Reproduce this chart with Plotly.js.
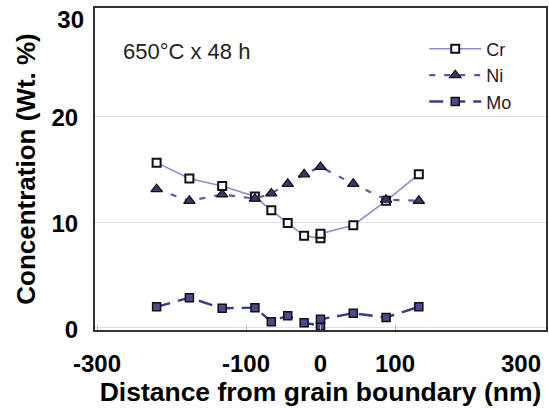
<!DOCTYPE html>
<html>
<head>
<meta charset="utf-8">
<script src="https://cdn.plot.ly/plotly-3.0.1.min.js"></script>
<style>html,body{margin:0;padding:0;background:#fff;}#chart{width:549px;height:412px;}</style>
</head>
<body>
<div id="chart"></div>
<script>
// Data
const crX = [-220, -176, -132, -88, -66, -44, -22, 0, 0, 44, 88, 132];
const crY = [15.6, 14.1, 13.4, 12.4, 11.1, 9.9, 8.7, 8.46, 8.9, 9.7, 12.0, 14.5];
const niX = [-220, -176, -132, -88, -66, -44, -22, 0, 44, 88, 132];
const niY = [13.1, 12.0, 12.6, 12.2, 12.7, 13.6, 14.5, 15.2, 13.6, 12.1, 12.0];
const moX = [-220, -176, -132, -88, -66, -44, -22, 0, 0, 44, 88, 132];
const moY = [2.0, 2.86, 1.86, 1.92, 0.6, 1.16, 0.5, 0.22, 0.82, 1.39, 1.0, 2.0];
const xTicks = [-300, -100, 0, 100];
const xEdgeTicks = [300];
const yTicks = [0, 10, 20];
const yEdgeTicks = [30];
const seriesNames = ['Cr', 'Ni', 'Mo'];
const noteText = '650°C x 48 h';
const xTitle = 'Distance from grain boundary (nm)';
const yTitle = 'Concentration (Wt. %)';

const FONT = 'Arial, "Liberation Sans", sans-serif';
const XR = [-302.7, 302.7];
const YR = [-0.19, 30.19];
const tickFont = {family: FONT, size: 24, weight: 'bold', color: '#000000'};

const traces = [
  {
    x: crX, y: crY, name: seriesNames[0], type: 'scatter', mode: 'lines+markers',
    line: {color: '#8f8bd0', width: 1.6},
    marker: {symbol: 'square', size: 8, color: '#ffffff', line: {color: '#111111', width: 2}}
  },
  {
    x: niX, y: niY, name: seriesNames[1], type: 'scatter', mode: 'lines+markers',
    line: {color: '#5a56ad', width: 2.2, dash: '6px,9px'},
    marker: {symbol: 'triangle-up', size: 10, color: '#3a3670', line: {color: '#111111', width: 1.2}}
  },
  {
    x: moX, y: moY, name: seriesNames[2], type: 'scatter', mode: 'lines+markers',
    xaxis: 'x2', yaxis: 'y2',
    line: {color: '#3b3b8a', width: 2.4, dash: '14px,8px'},
    marker: {symbol: 'square', size: 8, color: '#4a4a8e', line: {color: '#111111', width: 1.5}}
  }
];

const layout = {
  width: 549, height: 412,
  margin: {l: 95, r: 3, t: 8, b: 82},
  paper_bgcolor: '#ffffff', plot_bgcolor: '#ffffff',
  font: {family: FONT, color: '#000000'},
  showlegend: true,
  legend: {
    x: 0.73, y: 0.93, xanchor: 'left', yanchor: 'top',
    font: {family: FONT, size: 18, color: '#222222'},
    bgcolor: 'rgba(0,0,0,0)', borderwidth: 0,
    itemwidth: 52, tracegroupgap: 0
  },
  xaxis: {
    range: XR,
    tickvals: xTicks, ticktext: xTicks.map(String),
    ticks: 'inside', ticklen: 5, tickcolor: '#bbbbbb', tickwidth: 1,
    showgrid: false, zeroline: false,
    showline: true, linecolor: '#333333', linewidth: 2, mirror: true,
    tickfont: tickFont,
    ticklabelstandoff: 11, ticklabelshift: 0,
    title: {text: xTitle, font: {family: FONT, size: 26.5, weight: 'bold', color: '#000000'}, standoff: 6}
  },
  xaxis2: {
    overlaying: 'x', anchor: 'y2', side: 'bottom',
    range: XR,
    tickvals: xEdgeTicks, ticktext: xEdgeTicks.map(String),
    ticks: '', showgrid: false, zeroline: false, showline: false,
    tickfont: tickFont,
    ticklabelstandoff: 17, ticklabelshift: -23
  },
  yaxis: {
    range: YR,
    tickvals: yTicks, ticktext: yTicks.map(String),
    ticks: '', showgrid: true, gridcolor: '#e0e0e0', gridwidth: 1, zeroline: false,
    showline: true, linecolor: '#333333', linewidth: 2, mirror: true,
    tickfont: tickFont,
    ticklabelstandoff: 10, ticklabelshift: 2,
    title: {text: yTitle, font: {family: FONT, size: 26, weight: 'bold', color: '#000000'}, standoff: 8}
  },
  yaxis2: {
    overlaying: 'y', anchor: 'x2', side: 'left',
    range: YR,
    tickvals: yEdgeTicks, ticktext: yEdgeTicks.map(String),
    ticks: '', showgrid: false, zeroline: false, showline: false,
    tickfont: tickFont,
    ticklabelstandoff: 10, ticklabelshift: 10
  },
  annotations: [{
    xref: 'paper', yref: 'paper', x: 0.058, y: 0.865, xanchor: 'left', yanchor: 'middle',
    text: noteText, showarrow: false,
    font: {family: FONT, size: 22, color: '#222222'}
  }]
};

Plotly.newPlot('chart', traces, layout, {displayModeBar: false, staticPlot: true});
</script>
</body>
</html>
